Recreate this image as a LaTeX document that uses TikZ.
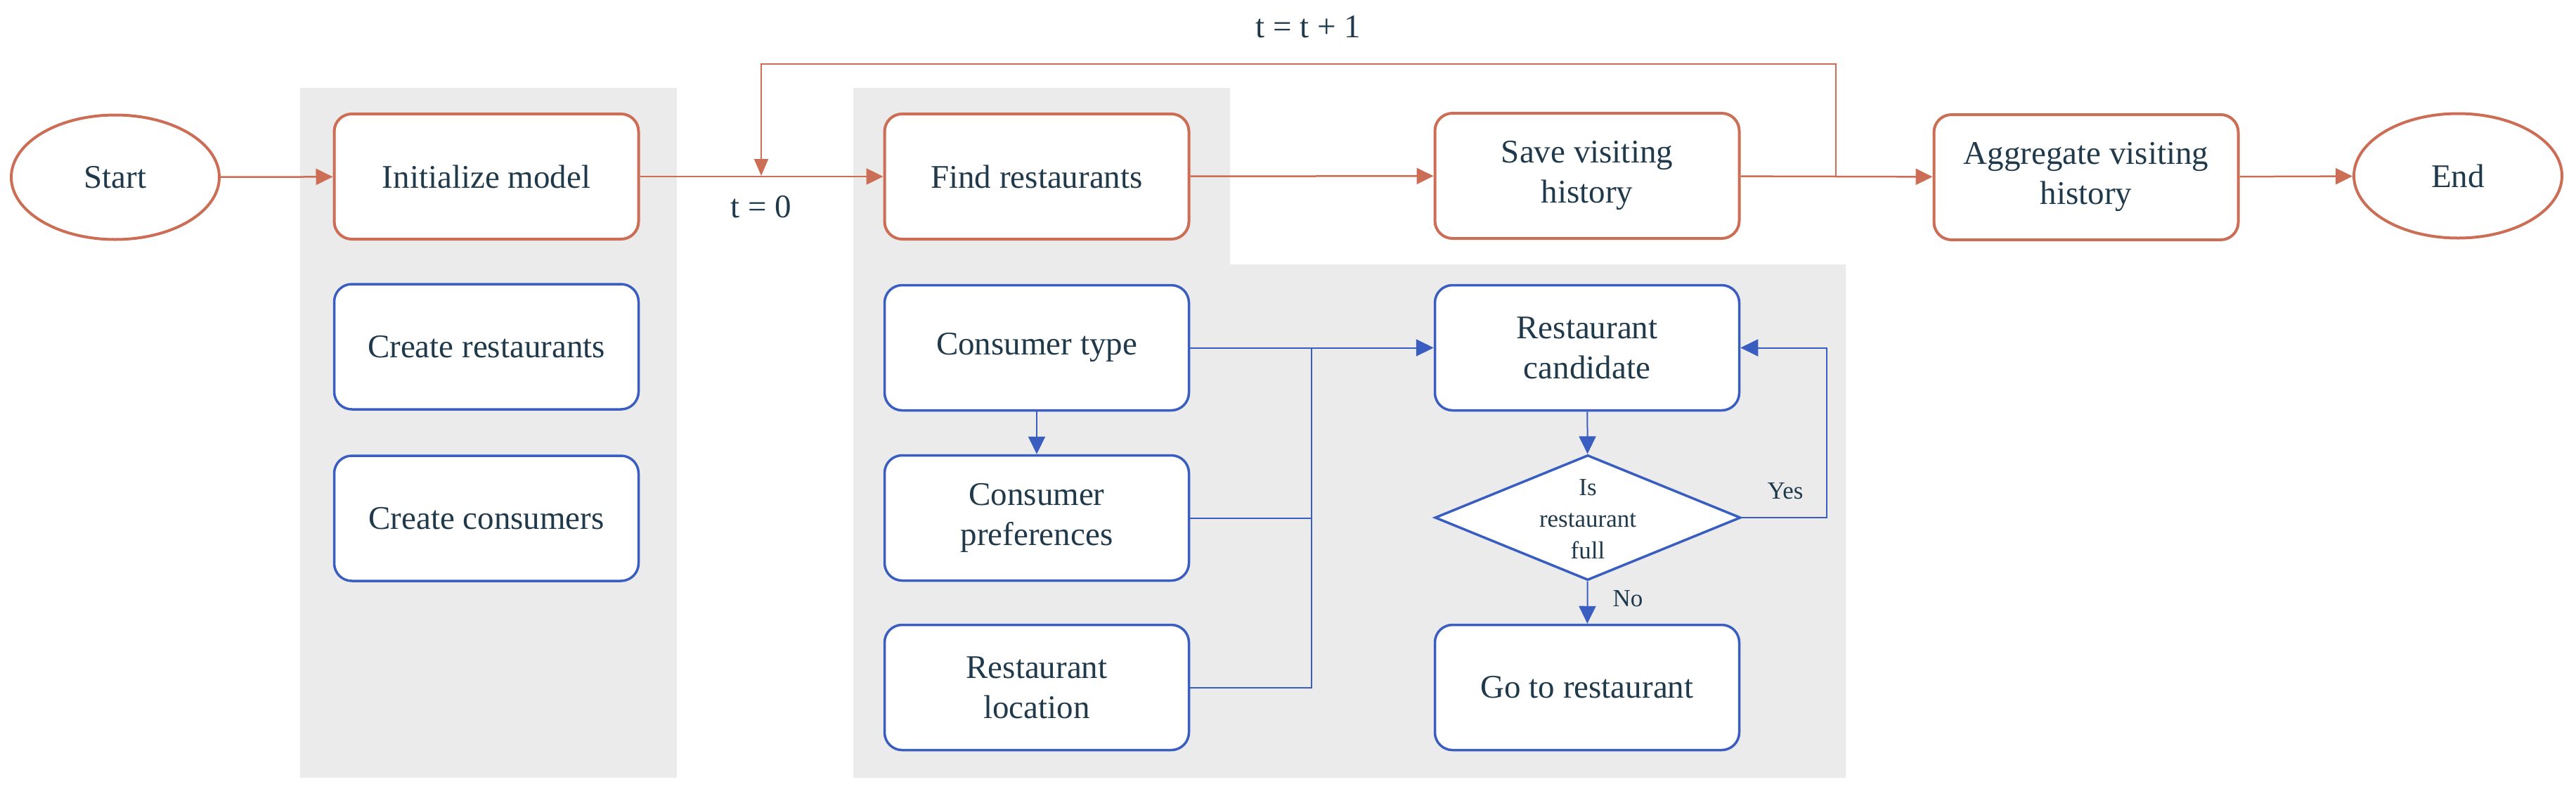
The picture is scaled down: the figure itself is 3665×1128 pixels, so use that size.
\documentclass[tikz,border=0pt]{standalone}
\usepackage{fontspec}
\setmainfont{Liberation Serif}
\usetikzlibrary{shapes.geometric,arrows.meta}
\definecolor{orng}{HTML}{CC6E55}
\definecolor{blu}{HTML}{3A5EC0}
\definecolor{panel}{HTML}{EBEBEB}
\definecolor{ink}{HTML}{203A4C}
\begin{document}
\begin{tikzpicture}[x=1pt,y=-1pt,
  txt/.style={text=ink,font=\fontsize{47}{57}\selectfont,align=center},
  smalltxt/.style={text=ink,font=\fontsize{35}{45}\selectfont,align=center},
  obox/.style={txt,draw=orng,line width=4pt,fill=white,rounded corners=25pt,minimum width=433pt,minimum height=178pt,inner sep=0pt},
  bbox/.style={txt,draw=blu,line width=3.5pt,fill=white,rounded corners=25pt,minimum width=433pt,minimum height=178pt,inner sep=0pt},
  oell/.style={txt,ellipse,draw=orng,line width=4pt,fill=white,minimum width=296pt,minimum height=177pt,inner sep=0pt},
  oarrow/.style={draw=orng,line width=2.5pt,-{Triangle[length=24pt,width=23pt]}},
  oline/.style={draw=orng,line width=2pt},
  barrow/.style={draw=blu,line width=2pt,-{Triangle[length=25pt,width=24pt]}},
  bline/.style={draw=blu,line width=2pt}]
\useasboundingbox (0,0) rectangle (3665,1128);
% panels
\fill[panel] (427,125) rectangle (963,1106);
\fill[panel] (1214,125) -- (1750,125) -- (1750,376) -- (2626,376) -- (2626,1106) -- (1214,1106) -- cycle;
% top row
\node[oell] (start) at (164,252) {Start};
\node[obox] (init) at (692,251) {Initialize model};
\node[obox] (find) at (1475,251) {Find restaurants};
\node[obox] (save) at (2258,250) {Save visiting\\history};
\node[obox] (agg) at (2968,252) {Aggregate visiting\\history};
\node[oell] (end) at (3497,250) {End};
% init column
\node[bbox] (cres) at (692,493) {Create restaurants};
\node[bbox] (ccon) at (692,737) {Create consumers};
% find column
\node[bbox] (ctype) at (1475,494.5) {Consumer type};
\node[bbox] (cpref) at (1475,736.5) {Consumer\\preferences};
\node[bbox] (rloc) at (1475,977.5) {Restaurant\\location};
\node[bbox] (cand) at (2258,494.5) {Restaurant\\candidate};
\node[diamond,draw=blu,line width=3.5pt,fill=white,minimum width=435pt,minimum height=178pt,inner sep=0pt] (dia) at (2259,736) {};
\node[smalltxt] (diatxt) at (2259,738) {Is\\restaurant\\full};
\node[bbox] (go) at (2258,977.5) {Go to restaurant};
% labels
\node[txt] (tplus) at (1861,38) {t = t + 1};
\node[txt] (tzero) at (1083,294) {t = 0};
\node[smalltxt] (yes) at (2540,698) {Yes};
\node[smalltxt] (no) at (2316,851) {No};
% coordinates
\coordinate (lr) at (2612,251);
\coordinate (lrt) at (2612,91);
\coordinate (llt) at (1083,91);
\coordinate (ll) at (1083,250);
\coordinate (jt) at (1866,495);
\coordinate (jp) at (1866,736.5);
\coordinate (jl) at (1866,977.5);
\coordinate (yr) at (2599,736);
\coordinate (yt) at (2599,494.5);
% orange connectors
\draw[oarrow] (start) -- (init);
\draw[oarrow] (init) -- (find);
\draw[oarrow] (find) -- (save);
\draw[oarrow] (save) -- (agg);
\draw[oarrow] (agg) -- (end);
\draw[oline,-{Triangle[length=24pt,width=20pt]}] (lr) -- (lrt) -- (llt) -- (ll);
% blue connectors
\draw[barrow] (ctype) -- (cand);
\draw[bline] (cpref.east) -- (jp) -- (jt);
\draw[bline] (rloc.east) -- (jl) -- (jp);
\draw[barrow] (ctype) -- (cpref);
\draw[barrow] (cand) -- (dia);
\draw[barrow] (dia) -- (go);
\draw[barrow] (dia.east) -- (yr) -- (yt) -- (cand.east);
\end{tikzpicture}
\end{document}
